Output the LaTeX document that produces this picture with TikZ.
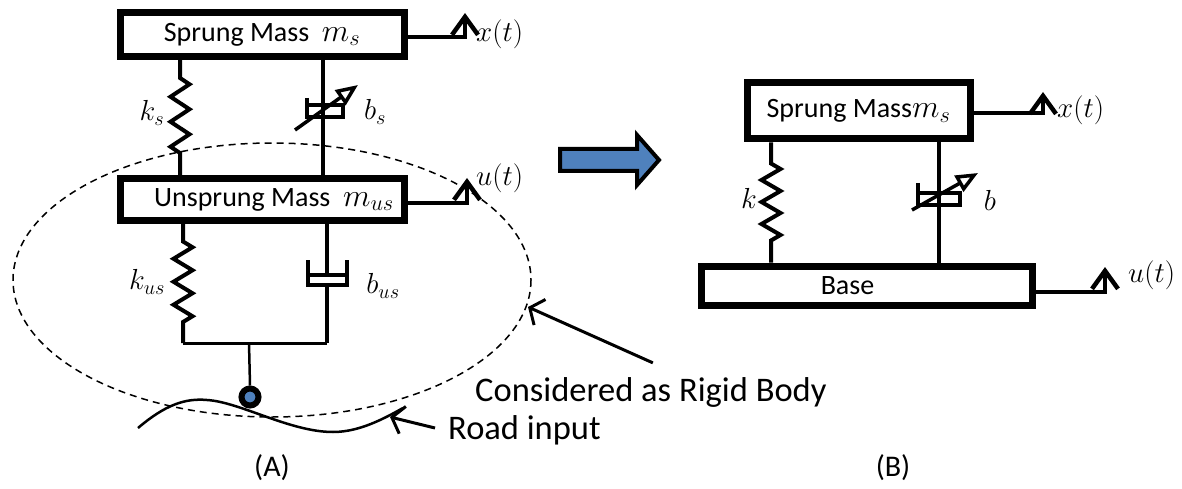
\RequirePackage{fix-cm}
\documentclass[tikz,border=0pt]{standalone}
\usepackage{fontspec}
\setmainfont{Carlito}
\usetikzlibrary{positioning,arrows.meta,decorations.pathmorphing}
\definecolor{wheelblue}{HTML}{4F81BD}
\newcommand{\boxmath}[1]{{\fontsize{32}{32}\selectfont$#1$}}

\begin{document}
\begin{tikzpicture}[
x=1pt, y=-1pt,
massbox/.style={draw, line width=7pt, rectangle, inner sep=0pt, font=\fontsize{28}{32}\selectfont},
spring/.style={line width=4pt, decorate, decoration={zigzag, segment length=25pt, amplitude=9.5pt, pre length=18pt, post length=18pt}},
rod/.style={line width=4pt},
varrow/.style={line width=3.5pt, -{Triangle[open, length=22pt, width=18pt]}},
sig/.style={line width=4.5pt, -{Straight Barb[length=18pt, width=26pt]}},
lbl/.style={inner sep=0pt, font=\fontsize{29}{33}\selectfont},
note/.style={inner sep=0pt, anchor=west, font=\fontsize{34.5}{40}\selectfont},
pointer/.style={line width=3pt, -{Straight Barb[length=11pt, width=28pt]}},
wheel/.style={circle, draw=black, line width=6pt, fill=wheelblue, minimum size=17pt, inner sep=0pt},
rigid/.style={dashed, line width=1.5pt, dash pattern=on 7pt off 5pt}
]
    \useasboundingbox (0,0) rectangle (1182,489);

    %Masses (A)
    \node[massbox, minimum width=284pt, minimum height=44pt] (ms) at (262,34.5) {Sprung Mass\ \ \boxmath{m_s}};
    \node[massbox, minimum width=284pt, minimum height=41pt] (mus) at (262,199.5) {\hspace*{24pt}Unsprung Mass\ \ \boxmath{m_{us}}};

    %Masses (B)
    \node[massbox, minimum width=223pt, minimum height=56pt] (msB) at (858.5,111) {Sprung Mass\boxmath{m_s}};
    \node[massbox, minimum width=331pt, minimum height=39pt] (base) at (866.5,285.5) {\hspace*{-38pt}Base};

    %Coordinates
    \coordinate (ksx) at (180,0);
    \coordinate (bs) at (323,105);
    \coordinate (jl) at (183,343);
    \coordinate (jw) at (249,343);
    \coordinate (jr) at (327,343);
    \coordinate (bus) at (327,275);
    \coordinate (kx) at (771,0);
    \coordinate (bb) at (939,193);
    \coordinate (xs) at (465,37);
    \coordinate (us) at (467,203);
    \coordinate (xsB) at (1043,113);
    \coordinate (usB) at (1105,292);

    %Suspension (A)
    \draw[spring] (ms.south -| ksx) -- (mus.north -| ksx);
    \draw[rod] (ms.south -| bs) -- (mus.north -| bs);
    \draw[rod] (bs) ++(-16,-7) -- ++(0,19) -- ++(36,0) -- ++(0,-12) -- ++(-36,0);
    \draw[varrow] (bs) ++(-28,25) -- ++(63,-45);
    \node[lbl] (ks) at (152,113) {$k_s$};
    \node[lbl] (bslbl) at (375,112) {$b_s$};

    \draw[spring, decoration={pre length=18pt, post length=13pt, segment length=23pt}] (mus.south -| jl) -- (jl);
    \draw[rod] (mus.south -| jr) -- (bus);
    \draw[rod] (bus) ++(0,10) -- (jr);
    \draw[rod] (bus) ++(-19,-15) -- ++(0,25) -- ++(39,0) -- ++(0,-25);
    \draw[rod] (bus) ++(-19,0) -- ++(39,0);
    \draw[line width=3pt] (jl) -- (jr);
    \node[lbl] (kus) at (147,282) {$k_{us}$};
    \node[lbl] (buslbl) at (383,286) {$b_{us}$};

    %Wheel and road
    \node[wheel] (wh) at (250,397) {};
    \draw[line width=2.5pt] (jw) -- (wh.north);
    \draw[line width=2.5pt] (138,428) .. controls (165,405) and (185,398) .. (207,400)
        .. controls (240,402) and (290,432) .. (333,432)
        .. controls (360,432) and (385,418) .. (403,408);
    \draw[rigid] (272,280) ellipse [x radius=259, y radius=137];

    %Suspension (B)
    \draw[spring, decoration={pre length=21pt, post length=18pt, segment length=22pt}] (msB.south -| kx) -- (base.north -| kx);
    \draw[rod] (msB.south -| bb) -- (base.north -| bb);
    \draw[rod] (bb) ++(-21,-10) -- ++(0,22) -- ++(42,0) -- ++(0,-12) -- ++(-42,0);
    \draw[varrow] (bb) ++(-27,17) -- ++(66,-37);
    \node[lbl] (klbl) at (749,198) {$k$};
    \node[lbl] (blbl) at (990,200) {$b$};

    %Signals
    \draw[sig] (ms.east |- xs) -- (xs) -- ++(0,-24);
    \node[lbl, anchor=west] (xt) at (476,34) {$x(t)$};
    \draw[sig] (mus.east |- us) -- (us) -- ++(0,-25);
    \node[lbl, anchor=west] (ut) at (476,178) {$u(t)$};
    \draw[sig] (msB.east |- xsB) -- (xsB) -- ++(0,-21);
    \node[lbl, anchor=west] (xtB) at (1057,110) {$x(t)$};
    \draw[sig] (base.east |- usB) -- (usB) -- ++(0,-25);
    \node[lbl, anchor=west] (utB) at (1128,275) {$u(t)$};

    %Blue arrow
    \draw[line width=4pt, fill=wheelblue, line join=miter] (560,149) -- (637,149) -- (637,135) -- (659,160)
        -- (637,185) -- (637,171) -- (560,171) -- cycle;

    %Notes
    \coordinate (rigtip) at (528,307);
    \coordinate (roadtip) at (390,417);
    \node[note] (rigidlbl) at (475,392) {Considered as Rigid Body};
    \node[note] (roadlbl) at (448,430) {Road input};
    \draw[pointer] ([xshift=2pt, yshift=14pt]rigidlbl.north) -- (rigtip);
    \draw[pointer] ([xshift=-13pt, yshift=2pt]roadlbl.west) -- (roadtip);
    \node[font=\fontsize{30}{36}\selectfont] (capA) at (272,468) {(A)};
    \node[font=\fontsize{30}{36}\selectfont] (capB) at (893,468) {(B)};
\end{tikzpicture}
\end{document}
